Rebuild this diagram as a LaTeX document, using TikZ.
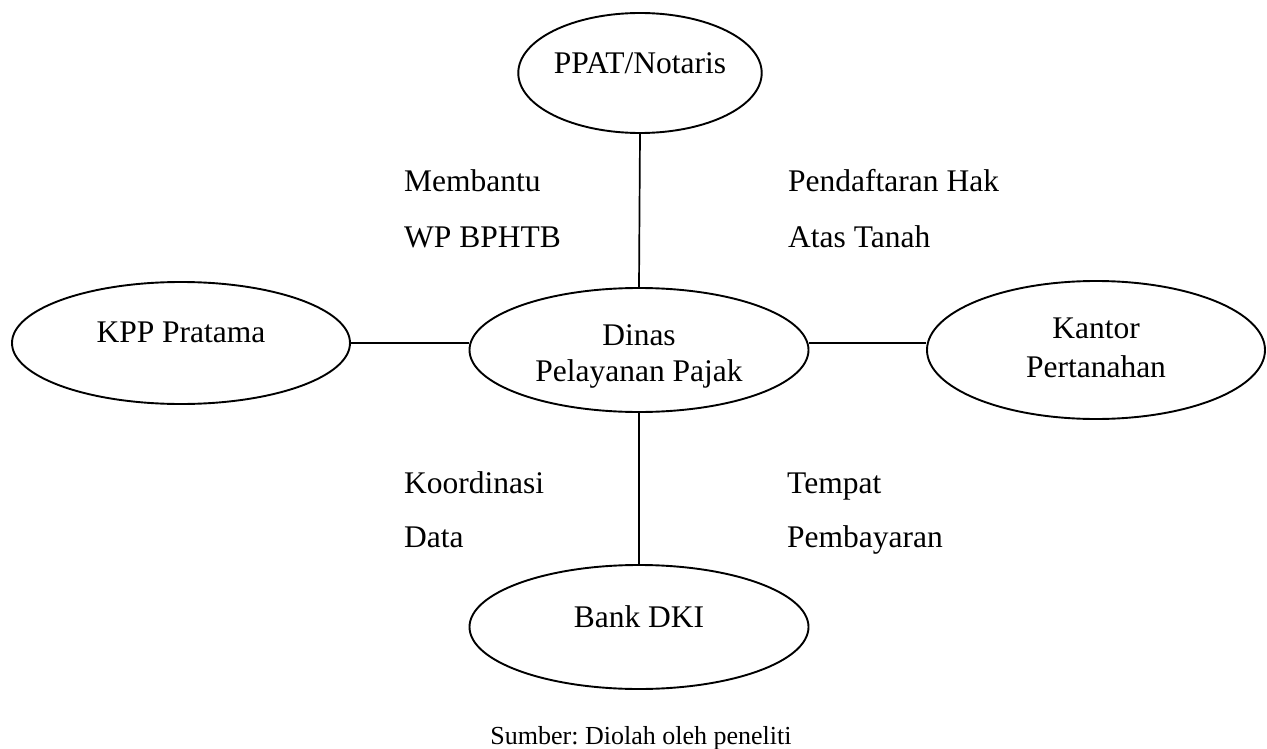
\documentclass[tikz,border=0pt]{standalone}
\usepackage{fontspec}
\setmainfont{Liberation Serif}
\usetikzlibrary{shapes.geometric}
\newcommand{\liftx}[2]{\raisebox{#1}[\height][\depth]{\begin{tabular}{@{}c@{}}#2\end{tabular}}}
\frenchspacing
\begin{document}
\begin{tikzpicture}[x=1pt,y=-1pt,
  oval/.style={draw, line width=1.9pt, fill=white, ellipse, inner sep=0pt,
    align=center, font=\fontsize{31.5}{37}\selectfont},
  lbl/.style={anchor=base west, inner sep=0pt, font=\fontsize{31.5}{37}\selectfont},
  link/.style={line width=1.7pt}]
\useasboundingbox (0,0) rectangle (1267,749);
\node[oval, minimum width=170pt, minimum height=120pt] (ppat) at (640,73) {\liftx{7pt}{PPAT/Notaris}};
\node[oval, minimum width=338pt, minimum height=122pt] (kpp) at (181,343) {\liftx{8pt}{KPP Pratama}};
\node[oval, minimum width=339pt, minimum height=124pt, font=\fontsize{31.5}{36}\selectfont] (dinas) at (639,350) {\liftx{-6pt}{Dinas\\Pelayanan Pajak}};
\node[oval, minimum width=338pt, minimum height=138pt, font=\fontsize{31.5}{39.5}\selectfont] (kantor) at (1096,350) {\liftx{0pt}{Kantor\\Pertanahan}};
\node[oval, minimum width=339pt, minimum height=124pt] (bank) at (639,627) {\liftx{7pt}{Bank DKI}};
\draw[link] (ppat.south) -- (dinas.north);
\draw[link] (dinas.south) -- (bank.north);
\draw[link] (kpp.east) -- (kpp.east -| dinas.west);
\draw[link] (dinas.east |- kpp.east) -- (kantor.west |- kpp.east);
\node[lbl] (l1) at (404,192) {Membantu};
\node[lbl] (l2) at (404,247) {WP BPHTB};
\node[lbl] (l3) at (788,192) {Pendaftaran Hak};
\node[lbl] (l4) at (788,247) {Atas Tanah};
\node[lbl] (l5) at (404,493) {Koordinasi};
\node[lbl] (l6) at (404,547) {Data};
\node[lbl] (l7) at (787,493) {Tempat};
\node[lbl] (l8) at (787,547) {Pembayaran};
\node[anchor=base, inner sep=0pt, font=\fontsize{26}{30}\selectfont] (src) at (641,744) {Sumber: Diolah oleh peneliti};
\end{tikzpicture}
\end{document}
